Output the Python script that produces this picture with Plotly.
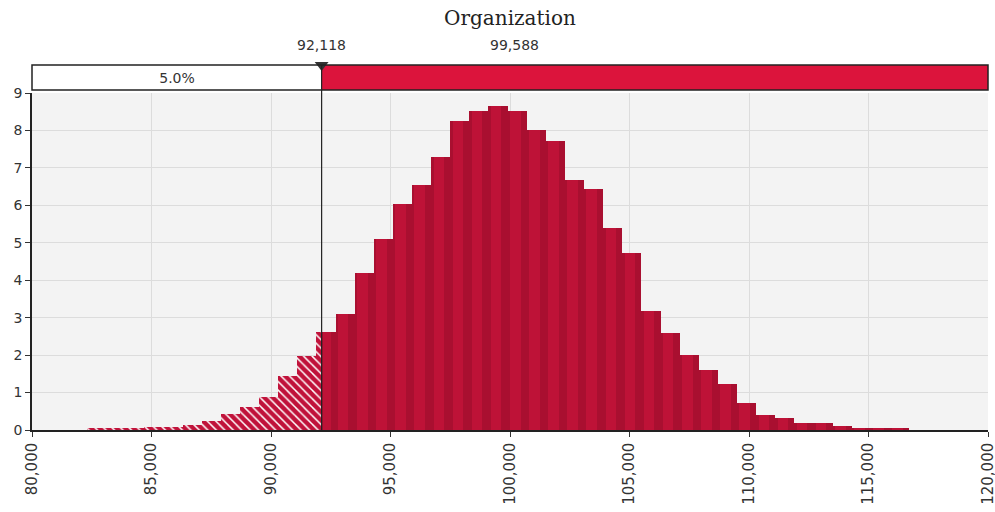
import plotly.graph_objects as go

# ---- data ----
title_text = "Organization"
bin_start = 82300
bin_width = 800
values = [0.03, 0.03, 0.05, 0.08, 0.09, 0.14, 0.23, 0.42, 0.62, 0.87, 1.45, 1.98,
          2.62, 3.09, 4.19, 5.11, 6.04, 6.53, 7.29, 8.24, 8.51, 8.65, 8.51, 8.02,
          7.72, 6.67, 6.44, 5.40, 4.72, 3.18, 2.60, 1.99, 1.59, 1.24, 0.72, 0.41,
          0.31, 0.19, 0.18, 0.11, 0.06, 0.05, 0.03]
marker_value = 92118
mean_value = 99588
left_pct_label = "5.0%"
x_min, x_max = 80000, 120000
x_tick_vals = [80000, 85000, 90000, 95000, 100000, 105000, 110000, 115000, 120000]
y_tick_vals = [0, 1, 2, 3, 4, 5, 6, 7, 8, 9]

# ---- split bins at marker ----
hx, hw, hy = [], [], []
sx, sw, sy = [], [], []
for i, v in enumerate(values):
    a = bin_start + i * bin_width
    b = a + bin_width
    if b <= marker_value:
        hx.append((a + b) / 2); hw.append(b - a); hy.append(v)
    elif a >= marker_value:
        sx.append((a + b) / 2); sw.append(b - a); sy.append(v)
    else:
        hx.append((a + marker_value) / 2); hw.append(marker_value - a); hy.append(v)
        sx.append((marker_value + b) / 2); sw.append(b - marker_value); sy.append(v)

fig = go.Figure()

# solid bars: base darker + lighter highlight stripe
fig.add_trace(go.Bar(x=sx, y=sy, width=sw, marker=dict(color="#A90F30", line=dict(width=0)),
                     xaxis="x", yaxis="y", hoverinfo="skip"))
fig.add_trace(go.Bar(x=[c - w * 0.1 for c, w in zip(sx, sw)], y=sy, width=[w * 0.55 for w in sw],
                     marker=dict(color="#BE1237", line=dict(width=0)),
                     xaxis="x", yaxis="y", hoverinfo="skip"))
# hatched bars
fig.add_trace(go.Bar(x=hx, y=hy, width=hw,
                     marker=dict(color="#C0123A", line=dict(width=0),
                                 pattern=dict(shape="\\", fgcolor="#FFFFFF", bgcolor="#C0123A",
                                              size=6, solidity=0.25, fillmode="replace")),
                     xaxis="x", yaxis="y", hoverinfo="skip"))

# top range bar
fig.add_trace(go.Bar(y=[0, 0], x=[marker_value - x_min, x_max - marker_value],
                     base=[x_min, marker_value], orientation="h", width=1,
                     marker=dict(color=["#FFFFFF", "#DC143C"], line=dict(width=0)),
                     text=[left_pct_label, ""], textposition="inside", insidetextanchor="middle",
                     textfont=dict(family="DejaVu Sans", size=14, color="#333333"),
                     xaxis="x", yaxis="y2", hoverinfo="skip"))
# triangle marker
fig.add_trace(go.Scatter(x=[marker_value], y=[0.5], mode="markers",
                         marker=dict(symbol="triangle-down", size=12, color="#333333"),
                         xaxis="x", yaxis="y2", cliponaxis=False, hoverinfo="skip"))

# outline of the top range bar
top_y0 = 340 / 365
fig.add_shape(type="rect", xref="paper", yref="paper", x0=0, x1=1, y0=top_y0, y1=1,
              line=dict(color="#222222", width=1.5), fillcolor="rgba(0,0,0,0)", layer="above")
fig.add_shape(type="line", xref="x", yref="paper", x0=marker_value, x1=marker_value,
              y0=0, y1=1, line=dict(color="#222222", width=1.2), layer="above")

tick_font = dict(family="DejaVu Sans", size=14, color="#333333")
fig.add_annotation(x=marker_value, xref="x", y=1.0548, yref="paper", text=f"{marker_value:,}",
                   showarrow=False, font=tick_font, yanchor="middle")
fig.add_annotation(x=mean_value, xref="x", y=1.0548, yref="paper", text=f"{mean_value:,}",
                   showarrow=False, font=tick_font, yanchor="middle", xshift=14)

fig.update_layout(
    width=995, height=512,
    margin=dict(l=32, r=7, t=65, b=82, autoexpand=False),
    paper_bgcolor="white", plot_bgcolor="#F3F3F3",
    barmode="overlay", bargap=0, showlegend=False,
    title=dict(text=title_text, x=0.5, xref="paper", y=1 - 18 / 512, yanchor="middle",
               font=dict(family="DejaVu Serif", size=20, color="#222222")),
    xaxis=dict(range=[x_min, x_max], tickvals=x_tick_vals, tickformat=",d", tickangle=-90,
               ticks="outside", ticklen=5, tickcolor="#333333", automargin=False,
               ticklabeloverflow="allow",
               showline=True, linecolor="#222222", linewidth=1.5,
               showgrid=True, gridcolor="#DCDCDC", gridwidth=1, zeroline=False,
               tickfont=dict(family="DejaVu Sans", size=15, color="#333333")),
    yaxis=dict(domain=[0, 337 / 365], range=[0, 9], tickvals=y_tick_vals,
               ticks="outside", ticklen=5, tickcolor="#333333", automargin=False,
               showline=True, linecolor="#222222", linewidth=1.5,
               showgrid=True, gridcolor="#DCDCDC", gridwidth=1, zeroline=False,
               tickfont=tick_font),
    yaxis2=dict(domain=[top_y0, 1], range=[-0.5, 0.5], showticklabels=False, automargin=False,
                showgrid=False, zeroline=False, showline=False, ticks=""),
)

fig.write_html("out.html", config={"displayModeBar": False},
               post_script="document.body.style.margin='0';document.body.style.overflow='hidden';")
